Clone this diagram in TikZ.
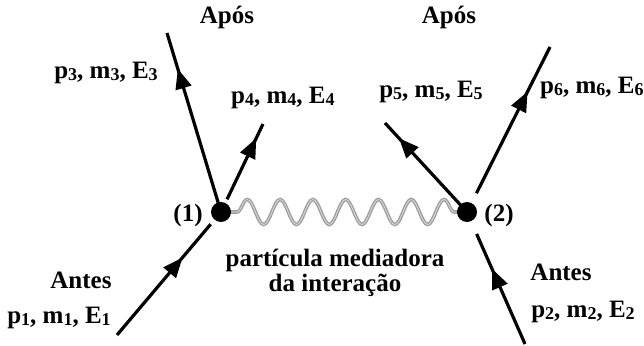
\documentclass[tikz,border=0pt]{standalone}
\usepackage{fontspec}
\setmainfont{Liberation Serif}
\usetikzlibrary{arrows.meta,decorations.markings,decorations.pathmorphing}
\tikzset{
  lbl/.style={font=\bfseries\fontsize{25}{27}\selectfont, inner sep=0pt},
  fermion/.style={line width=3.2pt, postaction={decorate},
    decoration={markings, mark=at position #1 with {\arrow{Triangle[length=20pt,width=16pt]}}}},
  vertex/.style={circle, fill, minimum size=20pt, inner sep=0pt},
  boson/.style={draw=gray!75, line width=1.4pt, double=gray!30, double distance=0.8pt,
    decorate, decoration={snake, segment length=32.8pt, amplitude=12.5pt, pre length=16pt, post length=0pt}},
}
\newcommand{\ix}[1]{\raisebox{-1.5pt}{\fontsize{18}{18}\selectfont #1}}
\begin{document}
\begin{tikzpicture}[x=1pt, y=-1pt]
      \useasboundingbox (0,0) rectangle (644,345);
      \coordinate (v1) at (221,212);
      \coordinate (v2) at (467,212);
      \coordinate (a1) at (117,335);
      \coordinate (a2) at (525,344);
      \coordinate (b3) at (167,33);
      \coordinate (b4) at (263,124);
      \coordinate (b5) at (385,123);
      \coordinate (b6) at (550,47);
      % mediator
      \draw [boson] (v1) -- (v2);
      % incoming
      \draw [fermion=0.63, shorten >=16pt] (a1) -- (v1);
      \draw [fermion=0.57, shorten >=24pt] (a2) -- (v2);
      % outgoing
      \draw [fermion=0.80] (v1) -- (b3);
      \draw [fermion=0.84, shorten <=14pt] (v1) -- (b4);
      \draw [fermion=0.83] (v2) -- (b5);
      \draw [fermion=0.73, shorten <=21pt] (v2) -- (b6);
      \node [vertex] (dot1) at (v1) {};
      \node [vertex] (dot2) at (v2) {};
      % labels
      \node [lbl] (apos1) at (227,17) {Após};
      \node [lbl] (apos2) at (449,17) {Após};
      \node [lbl] (out3) at (106,73) {p\ix{3}, m\ix{3}, E\ix{3}};
      \node [lbl, anchor=west] (out4) at (231,98) {p\ix{4}, m\ix{4}, E\ix{4}};
      \node [lbl] (out5) at (431,92) {p\ix{5}, m\ix{5}, E\ix{5}};
      \node [lbl, anchor=west] (out6) at (540,88) {p\ix{6}, m\ix{6}, E\ix{6}};
      \node [lbl] (num1) at (188,215) {(1)};
      \node [lbl] (num2) at (499,215) {(2)};
      \node [lbl] (med1) at (335,260) {partícula mediadora};
      \node [lbl] (med2) at (335,285) {da interação};
      \node [lbl] (antes1) at (81,280) {Antes};
      \node [lbl] (in1) at (59,318) {p\ix{1}, m\ix{1}, E\ix{1}};
      \node [lbl] (antes2) at (561,272) {Antes};
      \node [lbl] (in2) at (583,312) {p\ix{2}, m\ix{2}, E\ix{2}};
\end{tikzpicture}
\end{document}
